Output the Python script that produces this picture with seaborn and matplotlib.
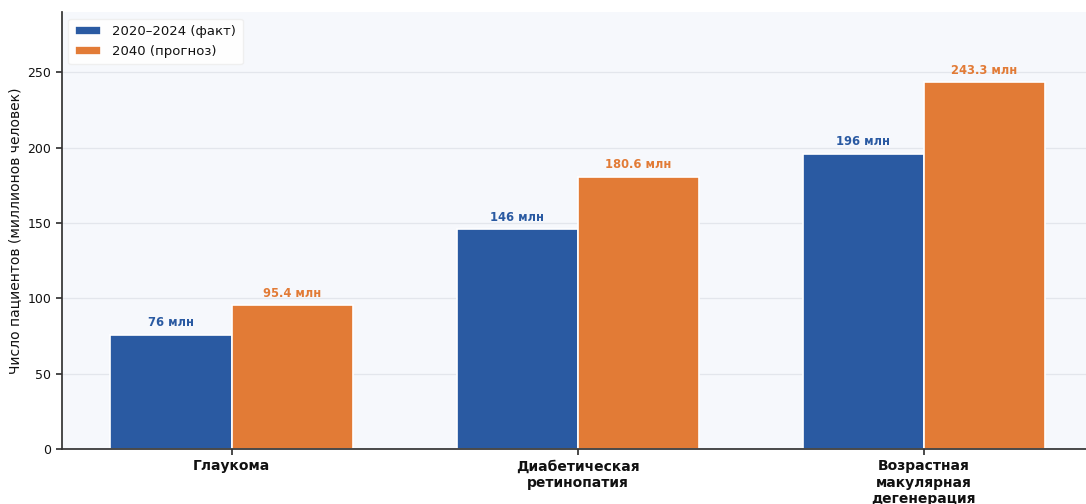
import pandas as pd
import matplotlib.pyplot as plt
import seaborn as sns

categories = ["Глаукома", "Диабетическая\nретинопатия", "Возрастная\nмакулярная\nдегенерация"]
series_names = ["2020–2024 (факт)", "2040 (прогноз)"]
values_now = [76, 146, 196]
values_2040 = [95.4, 180.6, 243.3]
labels_now = ["76 млн", "146 млн", "196 млн"]
labels_2040 = ["95.4 млн", "180.6 млн", "243.3 млн"]
colors = ["#2a5aa2", "#e27b36"]

sns.set_theme(style="white")
plt.rcParams['font.family'] = ['DejaVu Sans']

df = pd.DataFrame({
    "Заболевание": categories * 2,
    "Период": [series_names[0]] * 3 + [series_names[1]] * 3,
    "Значение": values_now + values_2040,
})

fig = plt.figure(figsize=(10.86, 5.04), dpi=100)
fig.patch.set_facecolor("white")
ax = fig.add_axes([0.057, 0.109, 0.95, 0.867])
ax.set_facecolor("#f6f8fc")

sns.barplot(
    data=df, x="Заболевание", y="Значение", hue="Период",
    hue_order=series_names, palette=colors, width=0.7,
    edgecolor="white", linewidth=1.2, saturation=1, ax=ax
)

# подписи значений над столбцами
for cont, labs, col in zip(ax.containers, [labels_now, labels_2040], colors):
    for bar, lab in zip(cont, labs):
        ax.annotate(lab, (bar.get_x() + bar.get_width() / 2, bar.get_height()),
                    xytext=(0, 4), textcoords="offset points",
                    ha="center", va="bottom", fontsize=8.3, fontweight="bold", color=col)

ax.set_xlim(-0.49, 2.49)
ax.set_ylim(0, 290)
ax.set_yticks([0, 50, 100, 150, 200, 250])
ax.yaxis.grid(True, color="#e3e6ec", linewidth=0.9)
ax.set_axisbelow(True)
ax.set_xlabel("")
ax.set_ylabel("Число пациентов (миллионов человек)", fontsize=10, color="#111111")
ax.tick_params(axis="y", labelsize=9, left=True, length=4, color="#333333", labelcolor="#111111")
ax.tick_params(axis="x", labelsize=10, bottom=True, length=4, color="#333333", labelcolor="#111111")
for t in ax.get_xticklabels():
    t.set_fontweight("bold")
sns.despine(ax=ax)
ax.spines["left"].set_color("#333333")
ax.spines["bottom"].set_color("#333333")

leg = ax.legend(loc="upper left", fontsize=9.5, frameon=True, framealpha=0.9,
                edgecolor="#eeeeee", title=None, borderpad=0.5)
for t in leg.get_texts():
    t.set_color("#111111")

fig.savefig("out.png", dpi=100)
